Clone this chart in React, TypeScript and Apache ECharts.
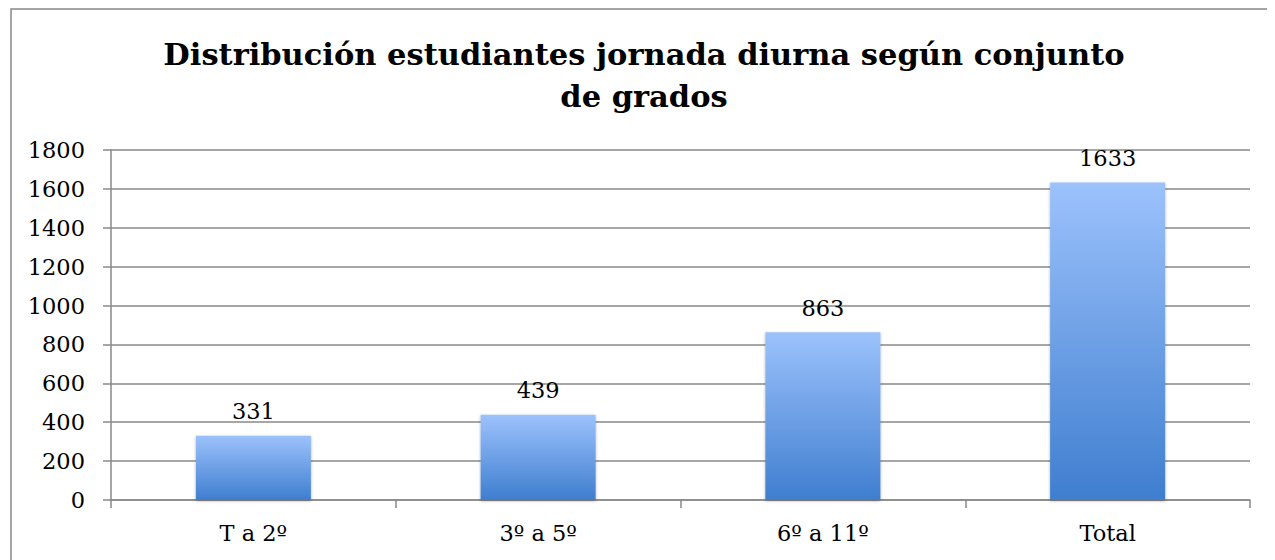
import React, { useEffect, useRef } from "react";
import * as echarts from "echarts";

const categories = ["T a 2º", "3º a 5º", "6º a 11º", "Total"];
const values = [331, 439, 863, 1633];
const titleText = "Distribución estudiantes jornada diurna según conjunto\nde grados";

const FONT = "DejaVu Serif";

export default function App() {
  const ref = useRef<HTMLDivElement>(null);
  useEffect(() => {
    if (!ref.current) return;
    const chart = echarts.init(ref.current, undefined, { renderer: "svg" });
    chart.setOption({
      animation: false,
      backgroundColor: "#fff",
      title: {
        text: titleText,
        left: 631,
        textAlign: "center",
        top: 20,
        textStyle: {
          fontFamily: FONT,
          fontWeight: "bold",
          fontSize: 30.5,
          lineHeight: 42,
          color: "#000",
        },
      },
      graphic: [
        {
          type: "rect",
          shape: { x: 3, y: 1, width: 3000, height: 3000 },
          style: { fill: "none", stroke: "#888", lineWidth: 1.5 },
          silent: true,
        },
      ],
      grid: { left: 103, top: 142, right: 25, bottom: 60, containLabel: false },
      xAxis: {
        type: "category",
        data: categories,
        axisLine: { lineStyle: { color: "#888", width: 1.5 } },
        axisTick: { show: true, length: 8, lineStyle: { color: "#888", width: 1.5 } },
        axisLabel: { fontFamily: FONT, fontSize: 22.5, color: "#000", margin: 21 },
      },
      yAxis: {
        type: "value",
        min: 0,
        max: 1800,
        interval: 200,
        axisLine: { show: true, lineStyle: { color: "#888", width: 1.5 } },
        axisTick: { show: true, length: 8, lineStyle: { color: "#888", width: 1.5 } },
        axisLabel: {
          fontFamily: FONT,
          fontSize: 22.5,
          color: "#000",
          margin: 26,
          formatter: (v: number) => String(v),
        },
        splitLine: { lineStyle: { color: "#888", width: 1.5 } },
      },
      series: [
        {
          type: "bar",
          data: values,
          barWidth: "40.4%",
          itemStyle: {
            color: new echarts.graphic.LinearGradient(0, 0, 0, 1, [
              { offset: 0, color: "#9cc2fc" },
              { offset: 1, color: "#3f7ecf" },
            ]),
            shadowColor: "rgba(0,0,0,0.3)",
            shadowBlur: 3,
            shadowOffsetY: 1,
          },
          label: {
            show: true,
            position: "top",
            distance: 13,
            fontFamily: FONT,
            fontSize: 22.5,
            color: "#000",
          },
        },
      ],
    });
    return () => chart.dispose();
  }, []);
  return <div ref={ref} style={{ width: 1267, height: 552 }} />;
}
